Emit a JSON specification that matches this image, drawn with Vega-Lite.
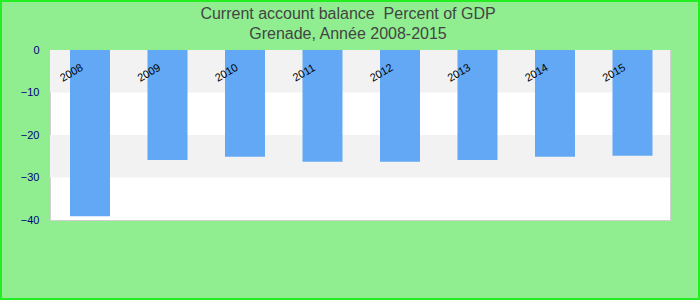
{
  "$schema": "https://vega.github.io/schema/vega-lite/v6.json",
  "autosize": {"type": "none"},
  "padding": {"left": 50, "top": 50, "right": 30, "bottom": 80},
  "width": 620,
  "height": 170,
  "background": "#90EE90",
  "config": {
    "view": {"fill": "#FFFFFF", "stroke": "#D0D0D0", "strokeWidth": 1},
    "font": "Liberation Sans"
  },
  "title": {
    "text": ["Current account balance \u00a0Percent of GDP", "Grenade, Année 2008-2015"],
    "fontSize": 16,
    "fontWeight": "normal",
    "font": "Liberation Sans",
    "color": "#444444",
    "lineHeight": 20,
    "anchor": "middle",
    "dx": -12,
    "offset": -42
  },
  "datasets": {
    "balance": [
      {"year": "2008", "value": -39.1},
      {"year": "2009", "value": -25.9},
      {"year": "2010", "value": -25.1},
      {"year": "2011", "value": -26.3},
      {"year": "2012", "value": -26.3},
      {"year": "2013", "value": -25.9},
      {"year": "2014", "value": -25.1},
      {"year": "2015", "value": -24.9}
    ],
    "bands": [
      {"from": 0, "to": -10},
      {"from": -20, "to": -30}
    ],
    "frame": [{"name": "border"}]
  },
  "resolve": {"scale": {"x": "independent"}},
  "layer": [
    {
      "data": {"name": "bands"},
      "mark": {"type": "rect", "fill": "#F2F2F2"},
      "encoding": {
        "y": {"field": "from", "type": "quantitative", "scale": {"domain": [-40, 0], "nice": false, "zero": false},
          "axis": {"values": [0, -10, -20, -30, -40], "domain": false, "ticks": false, "grid": false, "title": null,
            "labelColor": "#000080", "labelFont": "Liberation Sans", "labelFontSize": 11, "labelPadding": 11}},
        "y2": {"field": "to"}
      }
    },
    {
      "data": {"name": "balance"},
      "layer": [
        {
          "mark": {"type": "bar", "color": "#62A8F4"},
          "encoding": {
            "x": {"field": "year", "type": "nominal", "scale": {"paddingInner": 0.4839, "paddingOuter": 0.242, "align": 0.533}, "axis": null},
            "y": {"field": "value", "type": "quantitative"}
          }
        },
        {
          "mark": {"type": "text", "angle": -30, "dx": -21, "align": "center", "baseline": "middle", "fontSize": 11, "font": "Liberation Sans", "color": "#000000"},
          "encoding": {
            "x": {"field": "year", "type": "nominal"},
            "y": {"datum": -3, "type": "quantitative"},
            "text": {"field": "year"}
          }
        }
      ]
    },
    {
      "data": {"name": "frame"},
      "mark": {"type": "rect", "fill": null, "stroke": "#22EE22", "strokeWidth": 2},
      "encoding": {
        "x": {"datum": -0.07903, "type": "quantitative", "scale": {"domain": [0, 1], "nice": false, "zero": false}, "axis": null},
        "x2": {"datum": 1.04677},
        "y": {"datum": 11.529, "type": "quantitative"},
        "y2": {"datum": -58.588}
      }
    }
  ]
}
